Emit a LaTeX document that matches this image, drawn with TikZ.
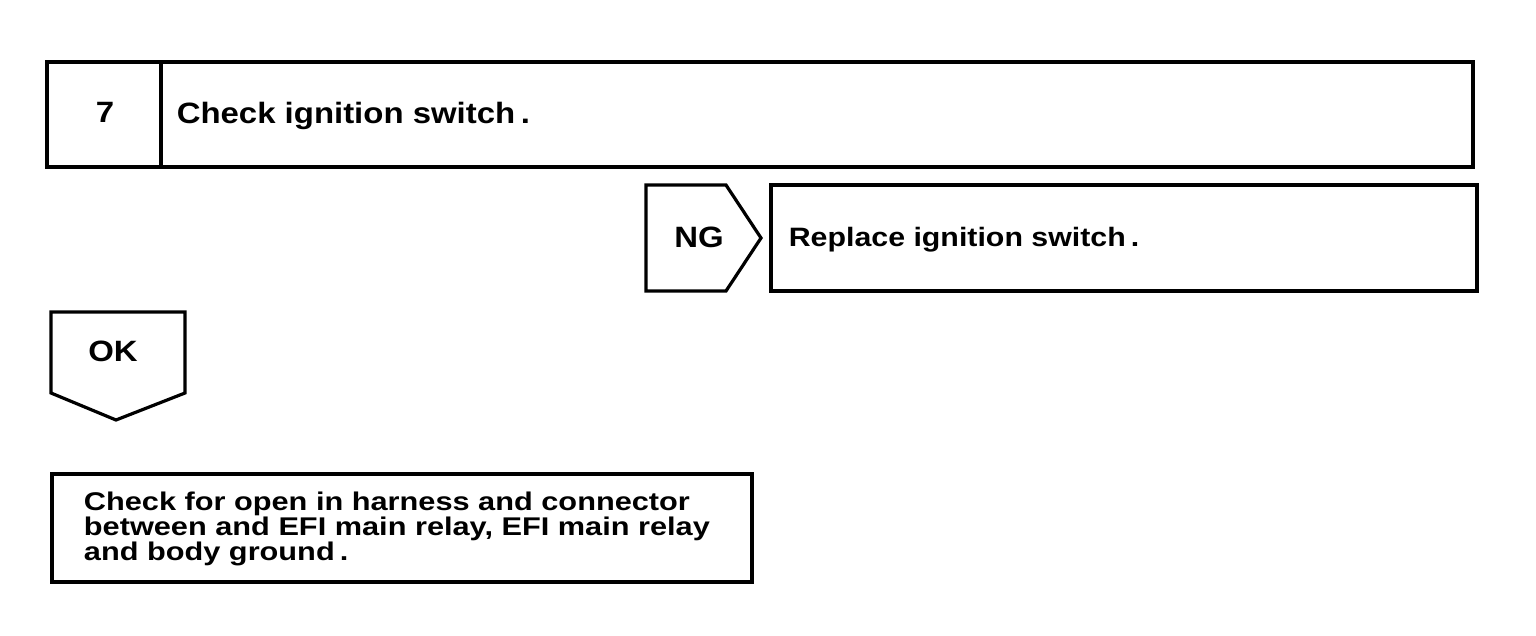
\documentclass[tikz,border=0pt]{standalone}
\usepackage{fontspec}
\setmainfont{Liberation Sans}
\begin{document}
\begin{tikzpicture}[x=0.5pt,y=-0.5pt,line width=1.6pt,line join=miter,
    big/.style={font=\fontsize{14.7}{16}\selectfont\bfseries,inner sep=0pt,transform shape,xscale=1.12},
    mid/.style={font=\fontsize{13.3}{15}\selectfont\bfseries,inner sep=0pt,transform shape,xscale=1.14},
    txt/.style={font=\fontsize{12.8}{12.5}\selectfont\bfseries,inner sep=0pt,align=left,transform shape,xscale=1.2}]
      \useasboundingbox(0,0)rectangle(1536,636);
      % step box
      \coordinate(A)at(47,62);\coordinate(B)at(1473,167);
      \coordinate(S)at(161,62);\coordinate(T)at(161,167);
      \draw(A)rectangle(B) (S)--(T);
      \node[big,anchor=base](num)at(105,123){7};
      \node[big,anchor=base west](title)at(175,124){Check ignition switch\,.};
      % NG branch
      \coordinate(N1)at(646,185);\coordinate(N2)at(726,185);\coordinate(N3)at(761,238);
      \coordinate(N4)at(726,291);\coordinate(N5)at(646,291);
      \draw(N1)--(N2)--(N3)--(N4)--(N5)--cycle;
      \node[big,anchor=base](ng)at(699,248){NG};
      \coordinate(R1)at(771,185);\coordinate(R2)at(1477,291);
      \draw(R1)rectangle(R2);
      \node[mid,anchor=base west](repl)at(787,247){Replace ignition switch\,.};
      % OK branch
      \coordinate(K1)at(51,312);\coordinate(K2)at(185,312);\coordinate(K3)at(185,393);
      \coordinate(K4)at(116,420);\coordinate(K5)at(51,393);
      \draw(K1)--(K2)--(K3)--(K4)--(K5)--cycle;
      \node[big,anchor=base](ok)at(113,361){OK};
      \coordinate(C1)at(52,474);\coordinate(C2)at(752,582);
      \draw(C1)rectangle(C2);
      \node[txt,anchor=north west](chk)at(82,490){Check for open in harness and connector\\between and EFI main relay, EFI main relay\\and body ground\,.};
    \end{tikzpicture}
\end{document}
